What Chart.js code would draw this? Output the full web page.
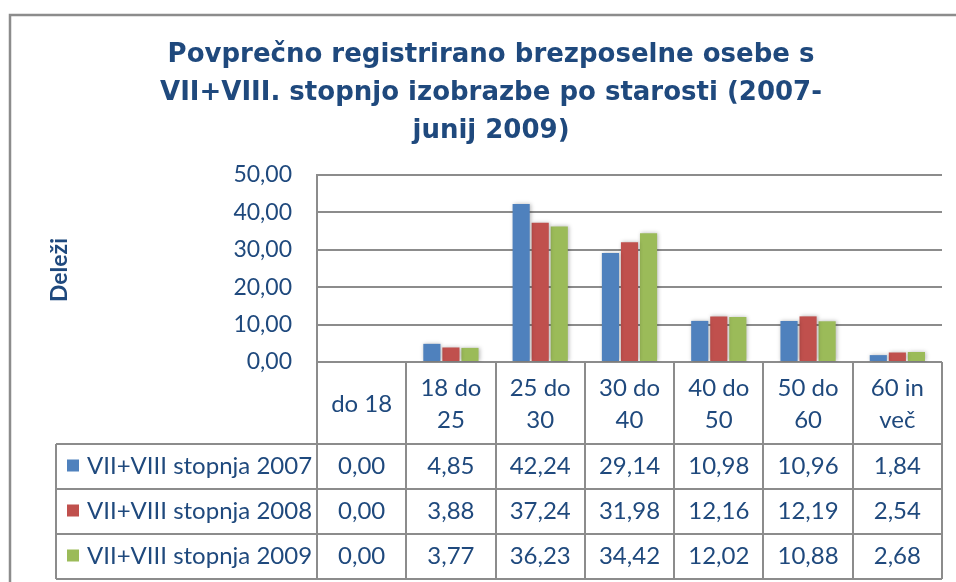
<!DOCTYPE html>
<html>
<head>
<meta charset="utf-8">
<script src="https://cdn.jsdelivr.net/npm/chart.js@4"></script>
<style>
  html, body { margin: 0; padding: 0; background: #fff; }
  #wrap { width: 956px; height: 582px; }
</style>
</head>
<body>
<div id="wrap"><canvas id="chart" width="956" height="582"></canvas></div>
<script>
// ── Data ─────────────────────────────────────────────────────
const categories = [
  ['do 18'], ['18 do', '25'], ['25 do', '30'], ['30 do', '40'],
  ['40 do', '50'], ['50 do', '60'], ['60 in', 'več']
];
const seriesNames = ['VII+VIII stopnja 2007', 'VII+VIII stopnja 2008', 'VII+VIII stopnja 2009'];
const s2007 = [0.00, 4.85, 42.24, 29.14, 10.98, 10.96, 1.84];
const s2008 = [0.00, 3.88, 37.24, 31.98, 12.16, 12.19, 2.54];
const s2009 = [0.00, 3.77, 36.23, 34.42, 12.02, 10.88, 2.68];
const yTicks = [0, 10, 20, 30, 40, 50];

const titleLines = [
  'Povprečno registrirano brezposelne osebe s',
  'VII+VIII. stopnjo izobrazbe po starosti (2007-',
  'junij 2009)'
];
const yTitle = 'Deleži';

// ── Helpers ──────────────────────────────────────────────────
const COLORS = ['#4F81BD', '#C0504D', '#9BBB59'];
const TEXT = '#1F497D';
const LINE = '#8c8c8c';
const FONT = 'Lato, "Open Sans", sans-serif';
function fmt(n) { return n.toFixed(2).replace('.', ','); }

// ── Plugin: frame, axis title, data table ────────────────────
const excelBits = {
  id: 'excelBits',
  beforeDraw(chart) {
    const ctx = chart.ctx;
    ctx.save();
    ctx.fillStyle = '#fff';
    ctx.fillRect(0, 0, chart.width, chart.height);
    ctx.strokeStyle = LINE;
    ctx.lineWidth = 2.5;
    ctx.strokeRect(10, 15, chart.width + 20, chart.height + 20);
    ctx.restore();
  },
  beforeDatasetsDraw(chart) {
    const ctx = chart.ctx;
    ctx.save();
    ctx.shadowColor = 'rgba(0,0,0,0.28)';
    ctx.shadowBlur = 4;
    ctx.shadowOffsetX = 1;
    ctx.shadowOffsetY = 0;
  },
  afterDatasetsDraw(chart) {
    chart.ctx.restore();
  },
  afterDraw(chart) {
    const ctx = chart.ctx;
    const area = chart.chartArea;
    const L = area.left, R = area.right;
    const cw = (R - L) / categories.length;
    const headTop = area.bottom;
    const headBot = 444;
    const rowH = 45;
    const legLeft = 56;
    const rows = [s2007, s2008, s2009];
    const tableBot = headBot + rowH * rows.length;

    ctx.save();
    ctx.strokeStyle = LINE;
    ctx.lineWidth = 2;
    ctx.beginPath();
    for (let i = 0; i <= categories.length; i++) {
      const x = Math.round(L + i * cw);
      ctx.moveTo(x, headTop);
      ctx.lineTo(x, tableBot);
    }
    ctx.moveTo(legLeft, headBot);
    ctx.lineTo(legLeft, tableBot);
    for (let r = 0; r <= rows.length; r++) {
      const y = headBot + r * rowH;
      ctx.moveTo(legLeft, y);
      ctx.lineTo(R, y);
    }
    ctx.stroke();

    ctx.fillStyle = TEXT;
    ctx.font = '24px ' + FONT;
    ctx.textAlign = 'center';
    ctx.textBaseline = 'middle';

    // header: category labels
    categories.forEach((lines, i) => {
      const cx = L + (i + 0.5) * cw;
      const mid = (headTop + headBot) / 2 + 1;
      const lh = 32;
      lines.forEach((t, k) => {
        ctx.fillText(t, cx, mid + (k - (lines.length - 1) / 2) * lh);
      });
    });

    // rows: legend key + values
    rows.forEach((vals, r) => {
      const cy = headBot + r * rowH + rowH / 2;
      vals.forEach((v, i) => {
        ctx.fillText(fmt(v), L + (i + 0.5) * cw, cy);
      });
      ctx.fillStyle = COLORS[r];
      ctx.fillRect(67, cy - 7, 12, 12);
      ctx.fillStyle = TEXT;
      ctx.textAlign = 'left';
      ctx.fillText(seriesNames[r], 87, cy);
      ctx.textAlign = 'center';
    });

    // rotated y-axis title
    ctx.translate(60, 270);
    ctx.rotate(-Math.PI / 2);
    ctx.font = 'bold 23px ' + FONT;
    ctx.fillText(yTitle, 0, 0);
    ctx.restore();
  }
};

// ── Chart ────────────────────────────────────────────────────
new Chart(document.getElementById('chart'), {
  type: 'bar',
  data: {
    labels: categories,
    datasets: [s2007, s2008, s2009].map((d, i) => ({
      label: seriesNames[i],
      data: d,
      backgroundColor: COLORS[i],
      borderWidth: 0,
      categoryPercentage: 0.64,
      barPercentage: 0.9
    }))
  },
  options: {
    responsive: false,
    animation: false,
    layout: { padding: { left: 40, right: 14, top: 0, bottom: 220 } },
    plugins: {
      legend: { display: false },
      tooltip: { enabled: false },
      title: {
        display: true,
        text: titleLines,
        color: TEXT,
        font: { family: '"DejaVu Sans", sans-serif', size: 26, weight: 'bold', lineHeight: 1.46 },
        padding: { top: 36, bottom: 25 }
      }
    },
    scales: {
      x: { display: false },
      y: {
        min: 0,
        max: 50,
        afterBuildTicks: s => { s.ticks = yTicks.map(v => ({ value: v })); },
        afterFit: s => { s.width = 277; },
        ticks: {
          color: TEXT,
          padding: 25,
          font: { family: FONT, size: 23 },
          callback: v => fmt(v)
        },
        grid: { color: LINE, lineWidth: 2, drawTicks: false },
        border: { display: true, color: LINE, width: 2 }
      }
    }
  },
  plugins: [excelBits]
});
</script>
</body>
</html>
